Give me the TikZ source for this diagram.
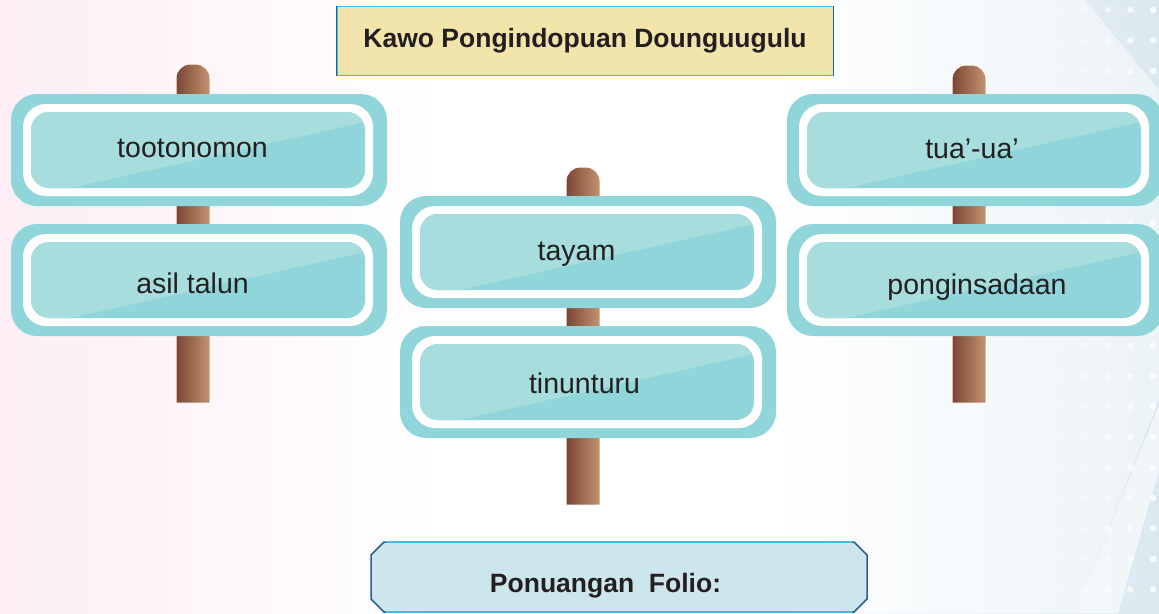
\documentclass[tikz,border=0pt]{standalone}
\usepackage{fontspec}
\setmainfont{Liberation Sans}
\usepackage{tikz}

\begin{document}
\begin{tikzpicture}[x=1pt,y=-1pt,
    signword/.style={anchor=base,text=ink,font=\fontsize{28.5}{32}\selectfont},
    boldword/.style={text=ink,font=\bfseries\fontsize{26.5}{30}\selectfont},
    post/.style={left color=postdark,right color=postlight,draw=white,line width=1pt}]
    \definecolor{ink}{rgb}{0.137,0.122,0.125}
    \definecolor{bgpink}{rgb}{0.988,0.933,0.957}
    \definecolor{bgblue}{rgb}{0.855,0.910,0.941}
    \definecolor{signteal}{rgb}{0.561,0.835,0.851}
    \definecolor{signlight}{rgb}{0.655,0.867,0.867}
    \definecolor{postdark}{rgb}{0.478,0.271,0.200}
    \definecolor{postlight}{rgb}{0.765,0.580,0.439}
    \definecolor{titlefill}{rgb}{0.945,0.898,0.675}
    \definecolor{foliofill}{rgb}{0.804,0.902,0.933}
    \definecolor{bluedark}{rgb}{0.173,0.373,0.565}
    \definecolor{bluecyan}{rgb}{0.271,0.737,0.847}
    \useasboundingbox (0,0) rectangle (1159,613);
    %background
    \fill[white] (0,0) rectangle (1159,613);
    \shade[left color=bgpink,right color=white] (0,0) rectangle (440,613);
    \shade[left color=white,right color=bgblue] (780,0) rectangle (1159,613);
    \fill[white,opacity=0.5] (780,0) -- (1085,0) -- (1159,90) -- (1159,400) -- (1075,613) -- (780,613) -- cycle;
    \fill[white,opacity=0.6] (1159,405) -- (1159,470) -- (1118,613) -- (1075,613) -- cycle;
    \foreach \i [evaluate=\i as \op using 0.15+0.14*\i] in {0,...,5}
        \foreach \j in {0,...,19}
            \fill[white,opacity=\op] ({1040+22.6*\i},{10+30.5*\j}) circle (3.2);
    %posts
    \shade[post] (176,403) [rounded corners=14pt]-- (176,64) -- (210,64) [sharp corners]-- (210,403) -- cycle;
    \shade[post] (566,505) [rounded corners=14pt]-- (566,167) -- (600,167) [sharp corners]-- (600,505) -- cycle;
    \shade[post] (952,403) [rounded corners=14pt]-- (952,65) -- (986,65) [sharp corners]-- (986,403) -- cycle;
    %signs
    \foreach \sx/\sy in {11/94,11/224,400/196,400/326,787/94,787/224}{
        \fill[signteal,rounded corners=26pt] (\sx,\sy) rectangle (\sx+376,\sy+112);
        \fill[white,rounded corners=23pt] (\sx+12,\sy+10) rectangle (\sx+362,\sy+102);
        \fill[signteal,rounded corners=18pt] (\sx+20,\sy+18) rectangle (\sx+354,\sy+94);
        \begin{scope}
            \clip[rounded corners=18pt] (\sx+20,\sy+18) rectangle (\sx+354,\sy+94);
            \fill[signlight] (\sx+20,\sy+18) -- (\sx+354,\sy+18) -- (\sx+354,\sy+28) -- (\sx+60,\sy+94) -- (\sx+20,\sy+94) -- cycle;
        \end{scope}
    }
    \node[signword] (tootonomon) at (192.5,157) {tootonomon};
    \node[signword] (asiltalun) at (192.5,293) {asil talun};
    \node[signword] (tayam) at (576.5,260) {tayam};
    \node[signword] (tinunturu) at (584.5,393) {tinunturu};
    \node[signword] (tuaua) at (972,158) {tua'-ua'};
    \node[signword] (ponginsadaan) at (977,294) {ponginsadaan};
    %title
    \node[boldword,draw=bluecyan,line width=1pt,fill=titlefill,inner sep=0pt,
        minimum width=496pt,minimum height=69pt,text height=19pt,text depth=6pt]
        (title) at (585,40.5) {Kawo Pongindopuan Dounguugulu};
    \draw[bluedark,line width=1pt] (title.north west) -- (title.south west);
    \draw[bluedark,line width=1pt] (title.north east) -- (title.south east);
    %folio box
    \filldraw[fill=foliofill,draw=bluedark,line width=1.5pt] (384,542) -- (854,542) -- (867,555) -- (867,599) -- (854,612) -- (384,612) -- (371,599) -- (371,555) -- cycle;
    \draw[bluecyan,line width=1.5pt] (386,542) -- (852,542);
    \draw[bluecyan,line width=1.5pt] (386,612) -- (852,612);
    \node[boldword,anchor=base] (folio) at (605.5,592) {Ponuangan\ \ Folio:};
\end{tikzpicture}
\end{document}
